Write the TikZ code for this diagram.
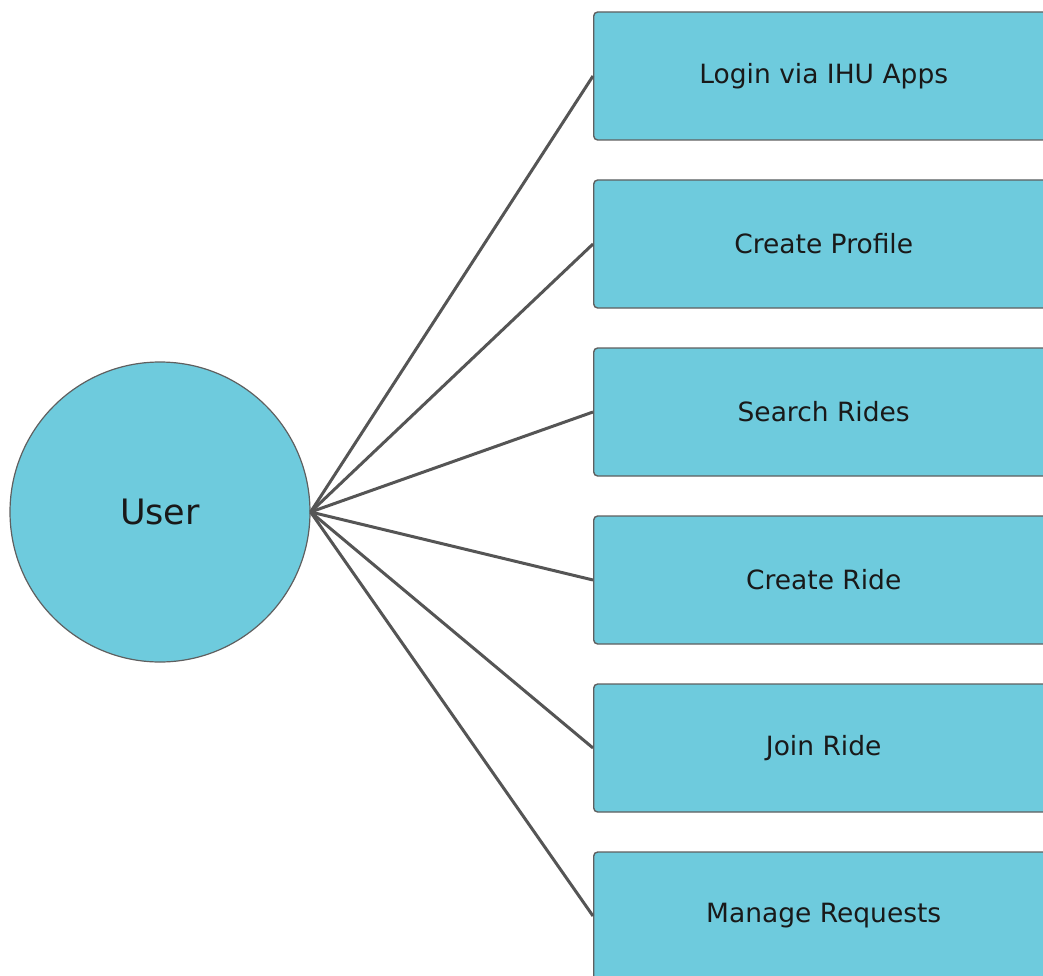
\documentclass[tikz,border=0pt]{standalone}
\usepackage{fontspec}
\setmainfont{DejaVu Sans}
\definecolor{boxfill}{RGB}{110,203,221}
\definecolor{edge}{RGB}{95,95,95}
\definecolor{linkgray}{RGB}{85,85,85}
\definecolor{ink}{RGB}{25,25,25}
\begin{document}
\begin{tikzpicture}[x=1pt,y=-1pt,
  actor/.style={circle,draw=edge,line width=1.2pt,fill=boxfill,minimum size=300pt,inner sep=0pt,
    text=ink,font=\fontsize{35}{40}\selectfont},
  usecase/.style={rectangle,rounded corners=4pt,draw=edge,line width=1.4pt,fill=boxfill,
    minimum width=460pt,minimum height=128pt,inner sep=0pt,anchor=west,
    text=ink,font=\fontsize{26.5}{32}\selectfont},
  link/.style={draw=linkgray,line width=3pt}]
\useasboundingbox (0,0) rectangle (1043,976);
\clip (0,0) rectangle (1043,976);
\node[actor] (user) at (160,512) {User};
\node[usecase] (login)   at (593,76)  {Login via IHU Apps};
\node[usecase] (profile) at (593,244) {Create Profile};
\node[usecase] (search)  at (593,412) {Search Rides};
\node[usecase] (create)  at (593,580) {Create Ride};
\node[usecase] (join)    at (593,748) {Join Ride};
\node[usecase] (manage)  at (593,916) {Manage Requests};
\foreach \t in {login,profile,search,create,join,manage}
  \draw[link] (user.east) -- (\t.west);
\end{tikzpicture}
\end{document}
